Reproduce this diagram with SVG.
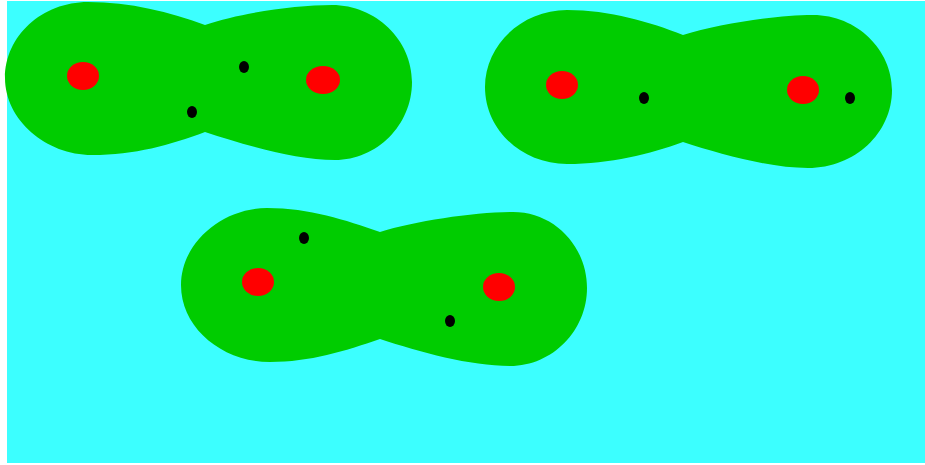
<svg xmlns="http://www.w3.org/2000/svg" width="925" height="465" viewBox="0 0 925 465">
<style>
.blob{fill:#00cc00}
.red{fill:#ff0000}
.dot{fill:#000000}
</style>
<rect x="0" y="0" width="925" height="465" fill="#ffffff"/>
<rect x="7" y="1" width="918" height="462" fill="#3cffff"/>
<g id="blob1">
<path class="blob" d="M205,25 C240,13 295,5 332,5 C376,5 412,40 412,82 C412,125 377,160 335,160 C295,160 245,145 205,132 C170,145 135,155 92,155 C46,155 5,120 5,78 C5,36 42,2 88,2 C130,2 170,12 205,25 Z"/>
<ellipse class="red" cx="83" cy="76" rx="16" ry="14"/>
<ellipse class="red" cx="323" cy="80" rx="17" ry="14"/>
<ellipse class="dot" cx="244" cy="67" rx="5" ry="6"/>
<ellipse class="dot" cx="192" cy="112" rx="5" ry="6"/>
</g>
<g id="blob2">
<path class="blob" d="M683,35 C718,24 775,15 813,15 C857,15 892,50 892,90 C892,133 855,168 808,168 C770,168 720,154 683,142 C650,154 610,164 567,164 C522,164 485,130 485,87 C485,45 522,10 567,10 C610,10 650,22 683,35 Z"/>
<ellipse class="red" cx="562" cy="85" rx="16" ry="14"/>
<ellipse class="red" cx="803" cy="90" rx="16" ry="14"/>
<ellipse class="dot" cx="644" cy="98" rx="5" ry="6"/>
<ellipse class="dot" cx="850" cy="98" rx="5" ry="6"/>
</g>
<g id="blob3">
<path class="blob" d="M380,232 C415,221 475,212 513,212 C555,212 587,247 587,288 C587,330 553,366 510,366 C470,366 420,352 380,339 C345,351 310,362 270,362 C222,362 181,328 181,285 C181,243 222,208 267,208 C310,208 345,220 380,232 Z"/>
<ellipse class="red" cx="258" cy="282" rx="16" ry="14"/>
<ellipse class="red" cx="499" cy="287" rx="16" ry="14"/>
<ellipse class="dot" cx="304" cy="238" rx="5" ry="6"/>
<ellipse class="dot" cx="450" cy="321" rx="5" ry="6"/>
</g>
</svg>
